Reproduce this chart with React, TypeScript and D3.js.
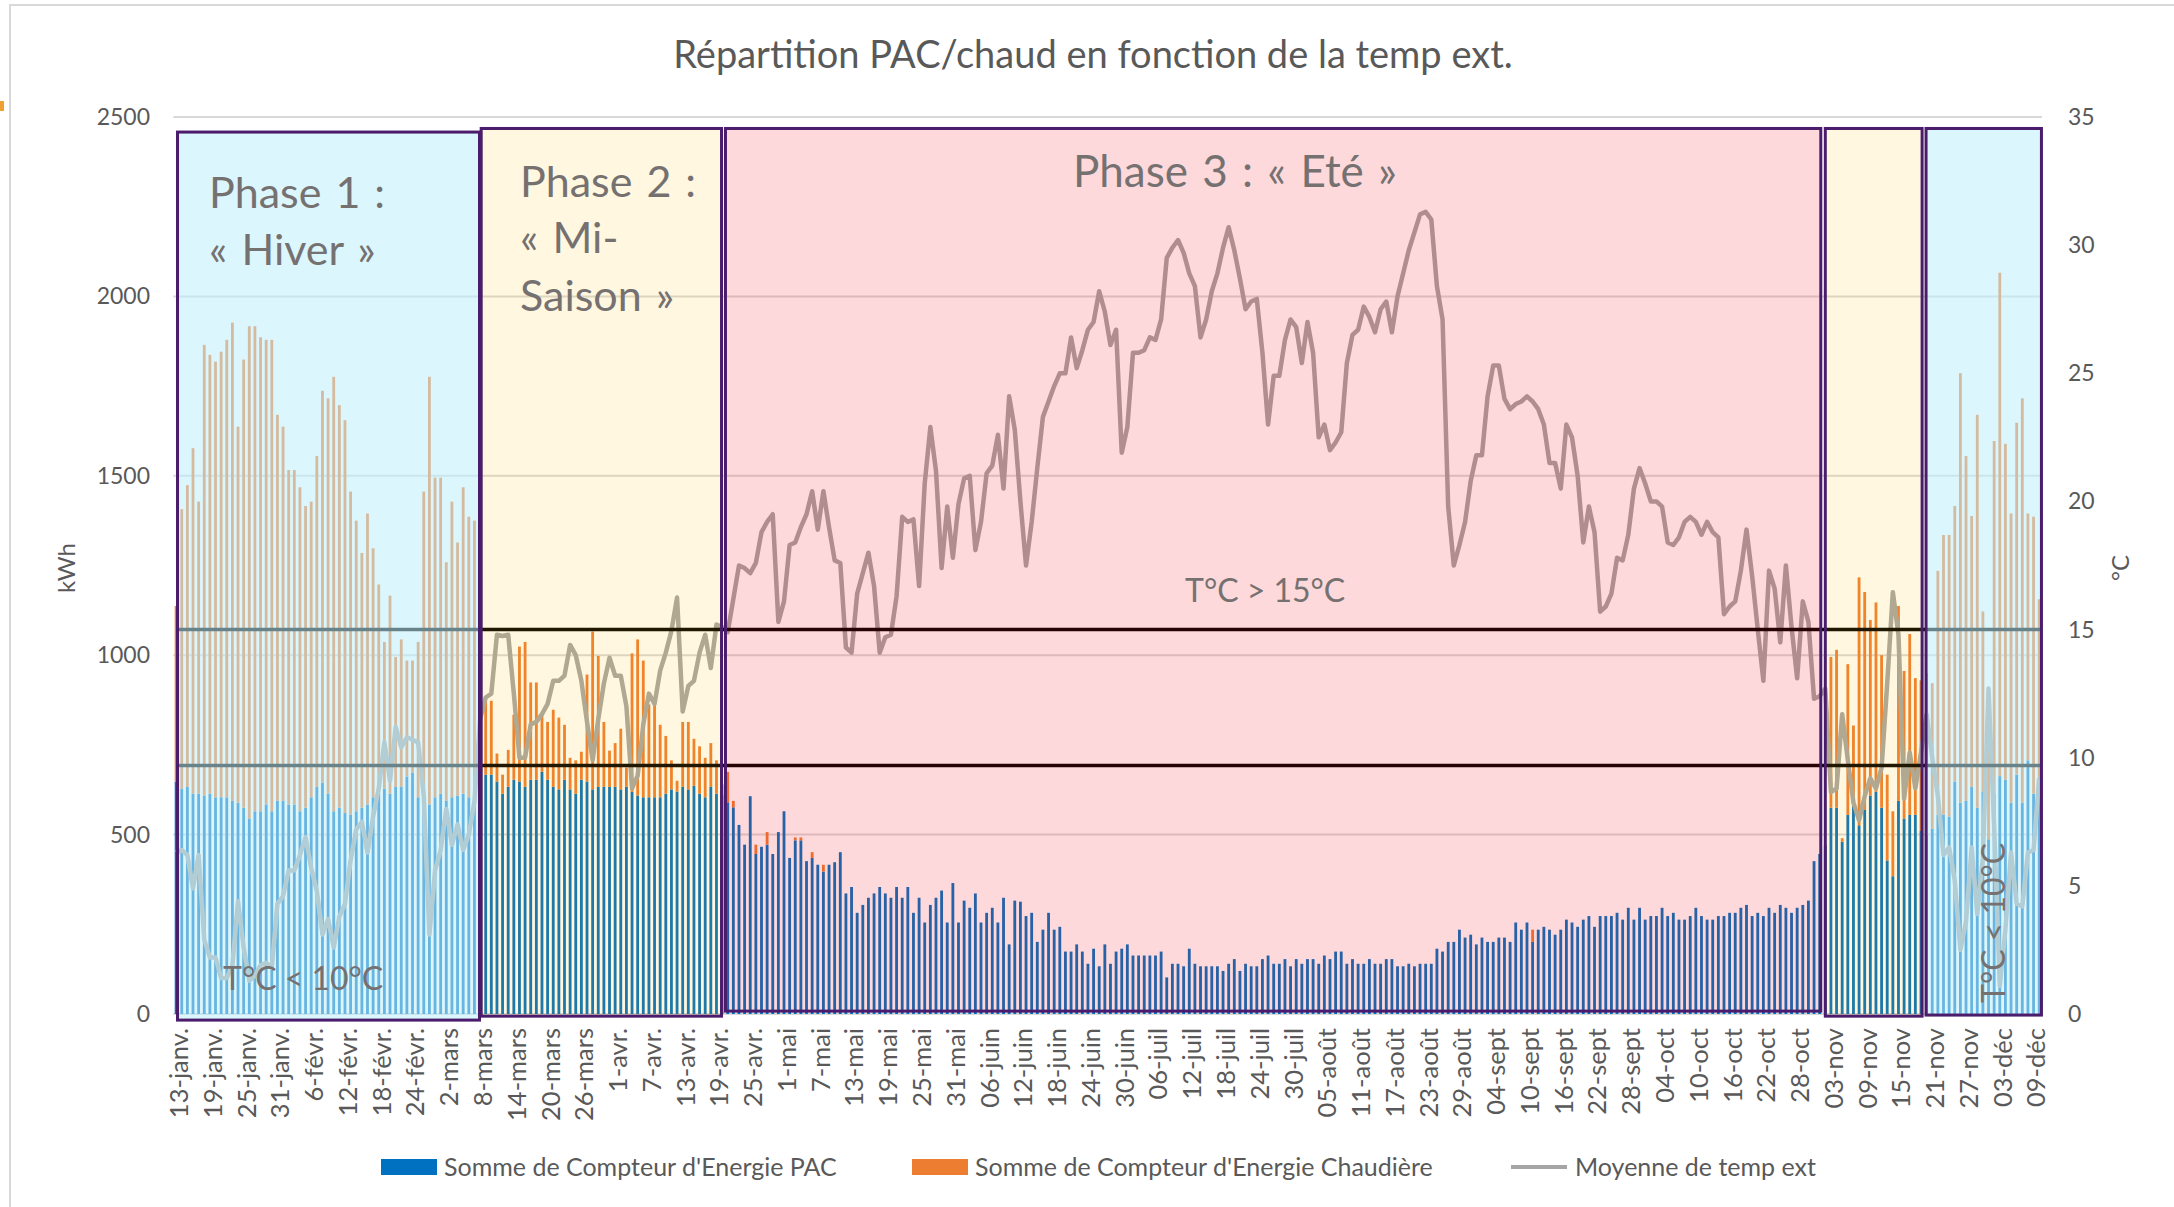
import { useEffect, useRef } from 'react'
import * as d3 from 'd3'

// ---- data (one value per day, 13-janv -> 10-déc) ----
// Phase 1 : hiver (13-janv -> 7-mars)
const pacHiver = [648,628,633,614,614,609,614,604,604,604,594,589,575,545,565,565,584,565,594,594,584,584,565,575,604,633,645,614,565,575,560,555,565,575,584,604,614,628,614,633,633,662,672,604,565,584,604,614,594,604,609,614,604,628]
const chaudHiver = [489,779,841,963,814,1256,1223,1214,1242,1275,1333,1048,1249,1372,1352,1321,1295,1314,1076,1043,932,932,903,841,824,922,1092,1102,1211,1122,1095,901,810,710,811,694,583,409,552,362,411,323,313,433,891,1192,891,881,665,824,705,854,782,747]
const tempHiver = [6.3,6.4,6.2,4.9,6.2,2.9,2.2,2.2,1.4,1.4,1.9,4.4,2.6,1.3,1.5,1.9,2.0,1.8,4.3,4.6,5.6,5.6,6.2,6.9,5.7,4.8,3.1,3.7,2.6,3.8,4.3,6.0,7.2,7.5,6.3,7.7,8.8,10.6,9.1,11.2,10.4,10.8,10.7,10.6,8.5,3.1,5.6,6.4,8.0,6.6,7.4,6.4,7.0,8.3]

// Phase 2 : mi-saison (8-mars -> 20-avr.)
const pacPrintemps = [650,667,667,648,614,633,653,648,633,653,653,675,653,633,626,653,626,614,653,648,626,633,633,633,633,626,633,619,609,604,604,604,604,614,626,620,633,626,636,614,604,633,614,610]
const chaudPrintemps = [250,206,206,78,53,103,181,376,404,271,271,164,161,215,200,153,88,93,78,298,440,365,181,101,122,169,54,386,435,381,259,259,202,161,81,30,181,188,131,132,110,122,93,30]
const tempPrintemps = [11.5,12.35,12.5,14.8,14.75,14.8,12.5,10.0,10.0,11.3,11.4,11.7,12.1,13.0,13.0,13.2,14.4,14.0,13.0,11.4,9.9,11.5,12.9,13.9,13.2,13.2,12.0,8.8,9.3,11.3,12.5,12.1,13.4,14.1,14.95,16.25,11.8,12.8,13.0,14.1,14.8,13.5,15.2,15.1]

// Phase 3 : été (21-avr. -> 1-nov)
const pacEte = [
  590,576,527,472,607,446,466,472,446,507,
  565,435,484,484,426,435,416,397,416,423,
  451,336,354,282,304,324,336,354,336,324,
  354,324,354,282,324,255,304,324,344,255,
  365,255,316,296,336,255,282,296,255,324,
  194,316,313,273,282,201,235,282,235,243,
  174,174,194,174,140,182,133,194,140,174,
  182,194,163,163,163,163,163,174,102,140,
  140,133,182,140,133,133,133,133,120,140,
  153,120,140,133,133,153,163,140,140,153,
  133,153,140,153,153,140,163,153,174,174,
  140,153,140,140,153,140,140,153,153,133,
  133,140,133,140,140,140,182,174,201,201,
  235,213,221,194,213,201,201,213,213,201,
  255,235,255,201,235,243,235,221,235,263,
  255,243,263,273,243,273,273,273,282,263,
  296,263,296,263,273,273,296,273,282,263,
  263,273,296,273,263,263,273,273,282,282,
  296,304,273,282,273,296,282,304,296,282,
  296,304,316,426,446
]
const chaudEte = [
  85,18,0,0,0,26,0,35,0,0, 0,0,8,8,0,16,0,19,0,0,
  0,0,0,0,0,0,0,0,0,0, 0,0,0,0,0,0,0,0,0,0,
  0,0,0,0,0,0,0,0,0,0, 0,0,0,0,0,0,0,0,0,0,
  0,0,0,0,0,0,0,0,0,0, 0,0,0,0,0,0,0,0,0,0,
  0,0,0,0,0,0,0,0,0,0, 0,0,0,0,0,0,0,0,0,0,
  0,0,0,0,0,0,0,0,0,0, 0,0,0,0,0,0,0,0,0,0,
  0,0,0,0,0,0,0,0,0,0, 0,0,0,0,0,0,0,0,0,0,
  0,0,0,34,0,0,0,0,0,0, 0,0,0,0,0,0,0,0,0,0,
  0,0,0,0,0,0,0,0,0,0, 0,0,0,0,0,0,0,0,0,0,
  0,0,0,0,0,0,0,0,0,0, 0,0,0,0,0
]
const tempEte = [
  14.9,16.2,17.5,17.4,17.2,17.6,18.8,19.2,19.5,15.3,
  16.1,18.3,18.4,19.0,19.5,20.4,18.9,20.4,19.0,17.7,
  17.6,14.3,14.1,16.4,17.2,18.0,16.7,14.1,14.7,14.8,
  16.3,19.4,19.2,19.3,16.7,20.7,22.9,21.2,17.4,19.8,
  17.8,19.9,20.9,21.0,18.1,19.2,21.1,21.4,22.6,20.5,
  24.1,22.8,20.0,17.5,19.2,21.3,23.3,23.9,24.5,25.0,
  25.0,26.4,25.2,25.9,26.7,27.0,28.2,27.4,26.1,26.7,
  21.9,22.9,25.8,25.8,25.9,26.4,26.3,27.1,29.5,29.9,
  30.2,29.7,28.9,28.4,26.4,27.1,28.2,28.9,29.9,30.7,
  29.8,28.7,27.5,27.8,27.9,25.8,23.0,24.9,24.9,26.3,
  27.1,26.8,25.4,27.0,25.8,22.5,23.0,22.0,22.3,22.7,
  25.4,26.5,26.7,27.6,27.2,26.6,27.5,27.8,26.6,28.0,
  28.9,29.8,30.5,31.2,31.3,31.0,28.4,27.1,19.8,17.5,
  18.3,19.2,20.8,21.8,21.8,24.1,25.3,25.3,24.0,23.6,
  23.8,23.9,24.1,23.9,23.6,23.0,21.5,21.5,20.5,23.0,
  22.5,21.0,18.4,19.8,18.8,15.7,15.9,16.4,17.8,17.7,
  18.7,20.5,21.3,20.7,20.0,20.0,19.8,18.4,18.3,18.6,
  19.2,19.4,19.2,18.7,19.2,18.8,18.6,15.6,15.9,16.1,
  17.3,18.9,17.1,15.0,13.0,17.3,16.6,14.5,17.5,15.1,
  13.1,16.1,15.3,12.3,12.4
]

// Phase 4 : mi-saison (2-nov -> 19-nov)
const pacAutomne = [470,575,575,480,555,594,526,570,609,619,575,428,384,594,545,555,555,510]
const chaudAutomne = [0,420,440,10,420,210,691,606,489,528,425,239,181,543,411,504,381,420]
const tempAutomne = [12.7,8.66,8.8,11.7,9.9,8.25,7.56,8.5,9.2,8.8,9.6,12.9,16.46,14.8,8.4,10.2,8.8,10.2]

// Phase 5 : hiver (20-nov -> 10-déc)
const pacDecembre = [500,516,555,555,550,648,589,594,633,575,619,487,614,663,653,589,667,589,707,614,658]
const chaudDecembre = [450,406,680,780,785,768,1197,961,755,1095,503,413,983,1403,936,806,981,1127,688,772,498]
const tempDecembre = [11.7,10.0,8.5,6.2,6.5,5.2,2.5,3.6,6.5,3.9,6.1,12.7,7.3,1.1,3.3,6.3,4.3,4.2,6.3,6.4,9.2]

const xLabels = ['13-janv.','19-janv.','25-janv.','31-janv.','6-févr.','12-févr.','18-févr.','24-févr.','2-mars','8-mars','14-mars','20-mars','26-mars','1-avr.','7-avr.','13-avr.','19-avr.','25-avr.','1-mai','7-mai','13-mai','19-mai','25-mai','31-mai','06-juin','12-juin','18-juin','24-juin','30-juin','06-juil','12-juil','18-juil','24-juil','30-juil','05-août','11-août','17-août','23-août','29-août','04-sept','10-sept','16-sept','22-sept','28-sept','04-oct','10-oct','16-oct','22-oct','28-oct','03-nov','09-nov','15-nov','21-nov','27-nov','03-déc','09-déc']
const kwhTicks = [0, 500, 1000, 1500, 2000, 2500]
const tempTicks = [0, 5, 10, 15, 20, 25, 30, 35]
const thresholds = [15, 9.7]

// phase rectangles, in day units and kWh
const phaseFrom = [0.25, 54.2, 97.6, 293.0, 310.9]
const phaseTo = [53.9, 96.9, 292.2, 310.2, 331.4]
const phaseTop = [2458, 2468, 2468, 2468, 2468]
const phaseBottom = [-17, -6, 8, -6, -3]

const pac = [...pacHiver, ...pacPrintemps, ...pacEte, ...pacAutomne, ...pacDecembre]
const chaud = [...chaudHiver, ...chaudPrintemps, ...chaudEte, ...chaudAutomne, ...chaudDecembre]
const temp = [...tempHiver, ...tempPrintemps, ...tempEte, ...tempAutomne, ...tempDecembre]

const W = 2174
const H = 1207
const FONT = 'Lato, "Noto Sans", sans-serif'
const BLUE = '#0070C0'
const ORANGE = '#ED7D31'
const GRAY = '#A5A5A5'
const TXT = '#595959'
const PH_TXT = '#767171'
const phaseFill = ['rgb(191,239,251)', 'rgb(255,192,0)', 'rgb(240,20,30)', 'rgb(255,192,0)', 'rgb(191,239,251)']
const phaseAlpha = [0.55, 0.12, 0.16, 0.12, 0.55]

export default function App() {
  const ref = useRef<SVGSVGElement>(null)

  useEffect(() => {
    const svg = d3.select(ref.current)
    svg.selectAll('*').remove()
    svg.style('font-family', FONT)

    const days = d3.range(pac.length)
    const x = d3.scaleBand<number>().domain(days).range([173.3, 2042]).paddingInner(0.5).paddingOuter(0.25)
    const xc = (d: number) => (x(0) as number) + x.bandwidth() / 2 + d * x.step()
    const yK = d3.scaleLinear().domain([0, 2500]).range([1014, 117])
    const yT = d3.scaleLinear().domain([0, 35]).range([1014, 117])

    // frame
    svg.append('rect').attr('width', W).attr('height', H).attr('fill', '#fff')
    svg.append('path').attr('d', `M10,${H} V5 H${W}`).attr('fill', 'none').attr('stroke', '#d9d9d9').attr('stroke-width', 2)
    svg.append('rect').attr('x', 0).attr('y', 101).attr('width', 4).attr('height', 10).attr('fill', '#f0a030')

    svg.append('text').attr('x', 1093).attr('y', 68).attr('text-anchor', 'middle')
      .attr('font-size', 38).attr('fill', TXT).text('Répartition PAC/chaud en fonction de la temp ext.')

    // gridlines
    svg.append('g').selectAll('line').data(kwhTicks).enter().append('line')
      .attr('x1', 173.3).attr('x2', 2042).attr('y1', d => yK(d)).attr('y2', d => yK(d))
      .attr('stroke', '#d9d9d9').attr('stroke-width', 2)

    // stacked bars
    const bars = svg.append('g')
    bars.selectAll('rect.pac').data(days).enter().append('rect')
      .attr('x', d => x(d) as number).attr('width', x.bandwidth())
      .attr('y', d => yK(pac[d])).attr('height', d => yK(0) - yK(pac[d]))
      .attr('fill', BLUE)
    bars.selectAll('rect.ch').data(days.filter(d => chaud[d] > 0)).enter().append('rect')
      .attr('x', d => x(d) as number).attr('width', x.bandwidth())
      .attr('y', d => yK(pac[d] + chaud[d])).attr('height', d => yK(pac[d]) - yK(pac[d] + chaud[d]))
      .attr('fill', ORANGE)

    // temperature
    const line = d3.line<number>().x(d => xc(d)).y(d => yT(temp[d]))
    svg.append('path').attr('d', line(days)).attr('fill', 'none')
      .attr('stroke', GRAY).attr('stroke-width', 4.5).attr('stroke-linejoin', 'round')

    // thresholds
    svg.append('g').selectAll('line').data(thresholds).enter().append('line')
      .attr('x1', 176).attr('x2', 2042).attr('y1', d => yT(d)).attr('y2', d => yT(d))
      .attr('stroke', '#000').attr('stroke-width', 3.5)

    // phases
    const ph = svg.append('g')
    phaseFrom.forEach((f, i) => {
      const x0 = xc(f), x1 = xc(phaseTo[i])
      const y0 = yK(phaseTop[i]), y1 = yK(phaseBottom[i])
      ph.append('rect').attr('x', x0).attr('y', y0).attr('width', x1 - x0).attr('height', y1 - y0)
        .attr('fill', phaseFill[i]).attr('fill-opacity', phaseAlpha[i])
      ph.append('rect').attr('x', x0).attr('y', y0).attr('width', x1 - x0).attr('height', y1 - y0)
        .attr('fill', 'none').attr('stroke', '#4a1c6b').attr('stroke-width', 3)
    })

    const label = (tx: number, ty: number, s: string, size: number) =>
      svg.append('text').attr('x', tx).attr('y', ty).attr('font-size', size)
        .attr('word-spacing', size > 40 ? 3 : 0).attr('fill', PH_TXT).text(s)
    label(209, 208, 'Phase 1 :', 43)
    label(209, 265, '« Hiver »', 43)
    label(520, 197, 'Phase 2 :', 43)
    label(520, 253, '« Mi-', 43)
    label(520, 311, 'Saison »', 43)
    label(1073, 187, 'Phase 3 : « Eté »', 44)
    label(1185, 602, 'T°C > 15°C', 32)
    label(223, 990, 'T°C < 10°C', 32)
    svg.append('text').attr('transform', 'translate(2005,1003) rotate(-90)')
      .attr('font-size', 32).attr('fill', PH_TXT).text('T°C < 10°C')

    // axes
    svg.append('g').selectAll('text').data(kwhTicks).enter().append('text')
      .attr('x', 150).attr('y', d => yK(d)).attr('dy', '0.35em').attr('text-anchor', 'end')
      .attr('font-size', 23).attr('fill', TXT).text(d => d)
    svg.append('g').selectAll('text').data(tempTicks).enter().append('text')
      .attr('x', 2068).attr('y', d => yT(d)).attr('dy', '0.35em')
      .attr('font-size', 23).attr('fill', TXT).text(d => d)
    svg.append('text').attr('transform', 'translate(67,568) rotate(-90)').attr('dy', '0.35em')
      .attr('text-anchor', 'middle').attr('font-size', 24).attr('fill', TXT).text('kWh')
    svg.append('text').attr('transform', 'translate(2121,568) rotate(-90)').attr('dy', '0.35em')
      .attr('text-anchor', 'middle').attr('font-size', 24).attr('fill', TXT).text('°C')

    svg.append('g').selectAll('text').data(xLabels).enter().append('text')
      .attr('transform', (d, i) => `translate(${xc(i * 6) + 3},1028) rotate(-90)`)
      .attr('dy', '0.35em').attr('text-anchor', 'end')
      .attr('font-size', 25.5).attr('fill', TXT).text(d => d)

    // legend
    const lg = svg.append('g').attr('font-size', 25).attr('fill', TXT)
    lg.append('rect').attr('x', 381).attr('y', 1159).attr('width', 56).attr('height', 16).attr('fill', BLUE)
    lg.append('text').attr('x', 444).attr('y', 1167).attr('dy', '0.35em').text("Somme de Compteur d'Energie PAC")
    lg.append('rect').attr('x', 912).attr('y', 1159).attr('width', 56).attr('height', 16).attr('fill', ORANGE)
    lg.append('text').attr('x', 975).attr('y', 1167).attr('dy', '0.35em').text("Somme de Compteur d'Energie Chaudière")
    lg.append('line').attr('x1', 1511).attr('x2', 1567).attr('y1', 1167).attr('y2', 1167).attr('stroke', GRAY).attr('stroke-width', 4)
    lg.append('text').attr('x', 1575).attr('y', 1167).attr('dy', '0.35em').text('Moyenne de temp ext')
  }, [])

  return (
    <div style={{ position: 'absolute', left: 0, top: 0 }}>
      <svg ref={ref} width={W} height={H} style={{ display: 'block' }} />
    </div>
  )
}
